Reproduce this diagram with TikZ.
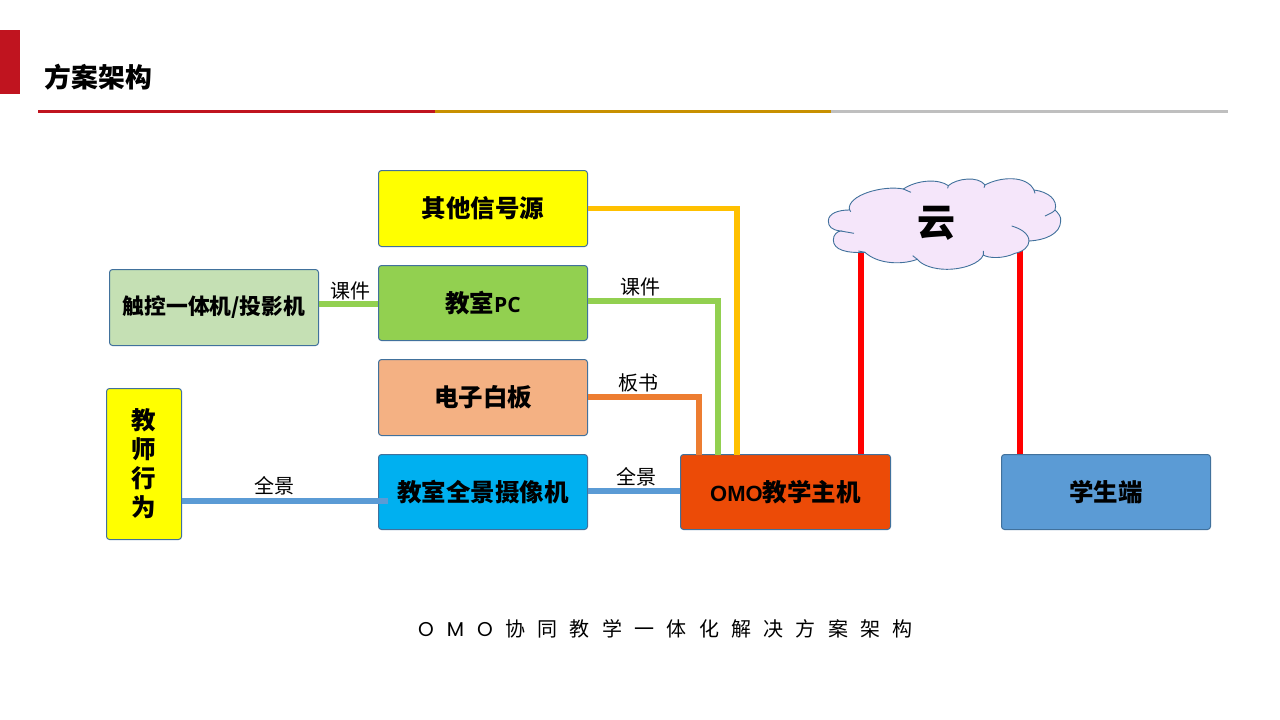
\documentclass[tikz,border=0pt]{standalone}
\usepackage{fontspec}
\setmainfont{Noto Sans CJK SC}
\newfontfamily\latinbold{Liberation Sans}
\newfontfamily\pcbold{Open Sans}
\newfontfamily\geo{Poppins}
\usepackage{xcolor}
\usetikzlibrary{calc,positioning}
\definecolor{edgec}{HTML}{41719C}
\definecolor{barred}{HTML}{C0141F}
\definecolor{baryel}{HTML}{C89000}
\definecolor{bargry}{HTML}{BFBFBF}
\definecolor{boxyel}{HTML}{FFFF00}
\definecolor{boxorg}{HTML}{F4B183}
\definecolor{boxsky}{HTML}{00B0F0}
\definecolor{boxsag}{HTML}{C5E0B4}
\definecolor{boxomo}{HTML}{EC4B07}
\definecolor{lnyel}{HTML}{FFC000}
\definecolor{lngrn}{HTML}{92D050}
\definecolor{lnorg}{HTML}{ED7D31}
\definecolor{lnblu}{HTML}{5B9BD5}
\definecolor{lnred}{HTML}{FF0000}
\definecolor{cloudc}{HTML}{F5E6FA}
\tikzset{
  box/.style={draw=edgec,line width=1pt,rounded corners=3pt,align=center,inner sep=0pt,font=\fontsize{24.5}{28}\selectfont\bfseries},
  wire/.style={line width=5.6pt},
  lbl/.style={font=\fontsize{20}{24}\selectfont,inner sep=0pt}
}
\begin{document}
\begin{tikzpicture}[x=1pt,y=-1pt]
\useasboundingbox (0,0) rectangle (1280,720);
\fill[barred] (0,30) rectangle (20,94);
\node[font=\fontsize{26.8}{30}\selectfont\bfseries,inner sep=0pt] (title) at (98.5,77) {方案架构};
\fill[barred] (38,109.5) rectangle (435,112.5);
\fill[baryel] (435,109.5) rectangle (831,112.5);
\fill[bargry] (831,109.5) rectangle (1228,112.5);
% boxes
\node[box,fill=boxyel,minimum width=209pt,minimum height=76pt] (other) at (483,208.5) {其他信号源};
\node[box,fill=lngrn,minimum width=209pt,minimum height=75pt] (pc) at (483,303) {教室{\pcbold\bfseries\fontsize{21}{24}\selectfont PC}};
\node[box,fill=boxorg,minimum width=209pt,minimum height=76pt] (board) at (483,397.5) {电子白板};
\node[box,fill=boxsky,minimum width=209pt,minimum height=75pt] (cam) at (483,492) {教室全景摄像机};
\node[box,fill=boxsag,minimum width=209pt,minimum height=76pt,font=\fontsize{21.8}{25}\selectfont\bfseries] (touch) at (214,307.5) {触控一体机/投影机};
\node[box,fill=boxyel,minimum width=75pt,minimum height=151pt,font=\fontsize{24.5}{29}\selectfont\bfseries] (teacher) at (144,464) {教\\师\\行\\为};
\node[box,fill=boxomo,minimum width=210pt,minimum height=75pt] (omo) at (785.5,492) {{\latinbold\bfseries\fontsize{22}{24}\selectfont OMO}教学主机};
\node[box,fill=lnblu,minimum width=209pt,minimum height=75pt] (student) at (1106,492) {学生端};
% connectors
\coordinate (yelin) at (737,454.5);
\coordinate (grnin) at (718,454.5);
\coordinate (orgin) at (699,454.5);
\coordinate (cloudl) at (861,240);
\coordinate (cloudr) at (1020,240);
\draw[wire,lnyel] (other.east) -| (yelin);
\draw[wire,lngrn] (587.5,301) -| (grnin);
\draw[wire,lnorg] (587.5,397) -| (orgin);
\draw[wire,lnblu] (587.5,491) -- (omo.west |- 0,491);
\draw[wire,lngrn] (touch.east |- 0,304) -- (pc.west |- 0,304);
\draw[wire,lnblu] (teacher.east |- 0,501) -- (388,501);
\draw[wire,lnred] (cloudl) -- (cloudl |- omo.north);
\draw[wire,lnred] (cloudr) -- (cloudr |- student.north);
% cloud
\begin{scope}[shift={(810,165)},x=0.3333pt,y=-0.3333pt]
\draw[edgec,fill=cloudc,line width=0.9pt] (118,135) .. controls (110,90) and (220,60) .. (280,72)
  .. controls (320,45) and (385,40) .. (415,62)
  .. controls (440,40) and (505,32) .. (525,60)
  .. controls (570,35) and (650,30) .. (672,75)
  .. controls (715,80) and (745,105) .. (735,135)
  .. controls (745,145) and (755,155) .. (752,170)
  .. controls (750,205) and (710,225) .. (657,228)
  .. controls (657,245) and (640,260) .. (615,265)
  .. controls (580,282) and (535,280) .. (520,270)
  .. controls (510,295) and (460,313) .. (410,313)
  .. controls (370,313) and (335,300) .. (322,283)
  .. controls (270,302) and (200,295) .. (165,262)
  .. controls (110,265) and (70,255) .. (70,225)
  .. controls (70,210) and (80,200) .. (92,198)
  .. controls (65,195) and (55,185) .. (55,168)
  .. controls (55,145) and (85,135) .. (118,135) -- cycle;
\draw[edgec,line width=0.9pt] (118,132) -- (122,140) (280,72) -- (303,82) (415,62) -- (413,70) (525,60) -- (522,68) (672,75) -- (675,85)
  (735,135) .. controls (730,142) and (718,147) .. (705,153)
  (657,228) .. controls (657,205) and (630,190) .. (605,183)
  (520,270) -- (520,258) (322,283) -- (308,272) (92,198) -- (132,205) (165,262) -- (145,258);
\end{scope}
\node[font=\fontsize{38}{42}\selectfont\bfseries,inner sep=0pt] (cloudtxt) at (936.5,223) {云};
% labels
\node[lbl] (lbcw) at (350,291) {课件};
\node[lbl] (lbpc) at (640,287) {课件};
\node[lbl] (lbbs) at (638,383) {板书};
\node[lbl] (lbqj) at (636,477) {全景};
\node[lbl] (lbtc) at (274,486) {全景};
\node[font=\fontsize{20}{24}\selectfont,inner sep=0pt] (caption) at (665.5,629) {{\geo O\hspace{13pt}M\hspace{13pt}O}\hspace{12.5pt}协\hspace{12.3pt}同\hspace{12.3pt}教\hspace{12.3pt}学\hspace{12.3pt}一\hspace{12.3pt}体\hspace{12.3pt}化\hspace{12.3pt}解\hspace{12.3pt}决\hspace{12.3pt}方\hspace{12.3pt}案\hspace{12.3pt}架\hspace{12.3pt}构};
\end{tikzpicture}
\end{document}
